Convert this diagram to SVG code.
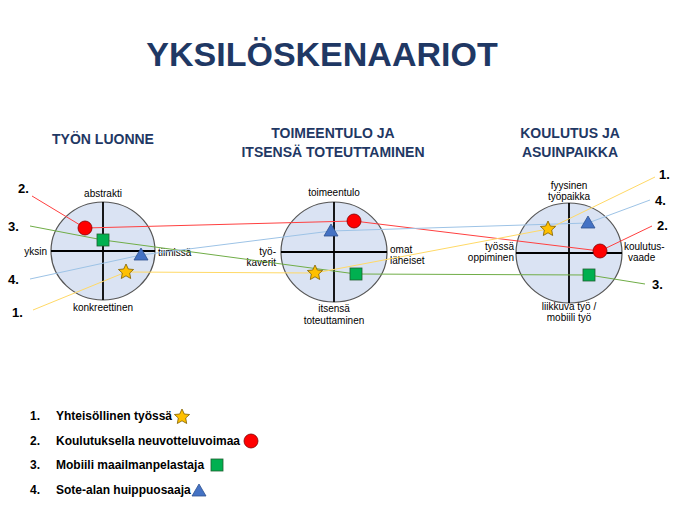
<svg xmlns="http://www.w3.org/2000/svg" width="690" height="514" viewBox="0 0 690 514">
<style>
text{font-family:"Liberation Sans",Arial,sans-serif;fill:#000}
.h{font-weight:bold;fill:#1f3864;font-size:14px;text-anchor:middle}
.l{font-size:10px}
.n{font-weight:bold;font-size:13px}
.g{font-size:12px;font-weight:bold}
.c{fill:#dae3f3;stroke:#555;stroke-width:1.2}
.ax{stroke:#000;stroke-width:1.8}
.st{fill:#ffc000;stroke:#7f6000;stroke-width:0.8}
.sq{fill:#00b050;stroke:#1f5f2f;stroke-width:0.8}
.ci{fill:#ff0000;stroke:#800000;stroke-width:0.8}
.tr{fill:#4472c4;stroke:#2f528f;stroke-width:0.8}
.ln{fill:none;stroke-width:1}
</style>
<defs>
<polygon id="star" points="0,-8 2.3,-3 7.6,-2.5 3.7,1 4.7,6.5 0,3.8 -4.7,6.5 -3.7,1 -7.6,-2.5 -2.3,-3"/>
</defs>
<rect width="690" height="514" fill="#fff"/>
<text x="322" y="66" style="font-size:34px;font-weight:bold;fill:#1f3864;text-anchor:middle">YKSILÖSKENAARIOT</text>
<text class="h" x="103" y="144">TYÖN LUONNE</text>
<text class="h" x="333" y="138">TOIMEENTULO JA</text>
<text class="h" x="333" y="157">ITSENSÄ TOTEUTTAMINEN</text>
<text class="h" x="570" y="138">KOULUTUS JA</text>
<text class="h" x="570" y="157">ASUINPAIKKA</text>
<g id="c1">
<ellipse class="c" cx="103" cy="251" rx="52" ry="49"/>
<line class="ax" x1="103" y1="202" x2="103" y2="300"/><line class="ax" x1="51" y1="251" x2="155" y2="251"/>
<text class="l" x="103" y="197" text-anchor="middle">abstrakti</text>
<text class="l" x="103" y="311" text-anchor="middle">konkreettinen</text>
<text class="l" x="47" y="255" text-anchor="end">yksin</text>
<text class="l" x="158" y="256">tiimissä</text>
</g>
<g id="c2">
<ellipse class="c" cx="334" cy="252" rx="53" ry="50"/>
<line class="ax" x1="334" y1="202" x2="334" y2="302"/><line class="ax" x1="281" y1="252" x2="387" y2="252"/>
<text class="l" x="334" y="196" text-anchor="middle">toimeentulo</text>
<text class="l" x="334" y="312" text-anchor="middle">itsensä</text>
<text class="l" x="334" y="324" text-anchor="middle">toteuttaminen</text>
<text class="l" x="276" y="255" text-anchor="end">työ-</text>
<text class="l" x="276" y="266" text-anchor="end">kaverit</text>
<text class="l" x="390" y="253">omat</text>
<text class="l" x="390" y="264">läheiset</text>
</g>
<g id="c3">
<ellipse class="c" cx="569" cy="253" rx="53" ry="50"/>
<line class="ax" x1="569" y1="203" x2="569" y2="303"/><line class="ax" x1="516" y1="253" x2="622" y2="253"/>
<text class="l" x="569" y="189" text-anchor="middle">fyysinen</text>
<text class="l" x="569" y="200" text-anchor="middle">työpaikka</text>
<text class="l" x="569" y="310" text-anchor="middle">liikkuva työ /</text>
<text class="l" x="569" y="321" text-anchor="middle">mobiili työ</text>
<text class="l" x="514" y="250" text-anchor="end">työssä</text>
<text class="l" x="514" y="261" text-anchor="end">oppiminen</text>
<text class="l" x="624" y="250">koulutus-</text>
<text class="l" x="628" y="261">vaade</text>
</g>
<g id="connectors">
<polyline class="ln" stroke="#ff4040" points="32,196 85,228 354,221 600,251 652,226"/>
<polyline class="ln" stroke="#70ad47" points="30,226 103,240 356,274 589,275 645,284"/>
<polyline class="ln" stroke="#9dc3e6" points="30,279 141,255 331,231 588,223 650,200"/>
<polyline class="ln" stroke="#ffd966" points="33,310 126,272 315,273 548,229 655,177"/>
</g>
<g id="markers">
<circle class="ci" cx="85" cy="228" r="7"/>
<rect class="sq" x="97" y="234" width="12" height="12"/>
<polygon class="tr" points="141,248 148,260 134,260"/>
<use href="#star" class="st" x="126" y="272"/>
<circle class="ci" cx="354" cy="221" r="7"/>
<rect class="sq" x="350" y="268" width="12" height="12"/>
<polygon class="tr" points="331,224 338,236 324,236"/>
<use href="#star" class="st" x="315" y="273"/>
<circle class="ci" cx="600" cy="251" r="7"/>
<rect class="sq" x="583" y="269" width="12" height="12"/>
<polygon class="tr" points="588,216 595,228 581,228"/>
<use href="#star" class="st" x="548" y="229"/>
</g>
<g id="numbers">
<text class="n" x="18" y="193">2.</text>
<text class="n" x="8" y="231">3.</text>
<text class="n" x="8" y="284">4.</text>
<text class="n" x="12" y="317">1.</text>
<text class="n" x="659" y="179">1.</text>
<text class="n" x="655" y="205">4.</text>
<text class="n" x="657" y="230">2.</text>
<text class="n" x="652" y="289">3.</text>
</g>
<g id="legend">
<text class="g" x="30" y="420">1.</text><text class="g" x="56" y="420">Yhteisöllinen työssä</text>
<use href="#star" class="st" x="182" y="417"/>
<text class="g" x="30" y="445">2.</text><text class="g" x="56" y="445">Koulutuksella neuvotteluvoimaa</text>
<circle class="ci" cx="251" cy="441" r="7"/>
<text class="g" x="30" y="469">3.</text><text class="g" x="56" y="469">Mobiili maailmanpelastaja</text>
<rect class="sq" x="211" y="459" width="12" height="12"/>
<text class="g" x="30" y="494">4.</text><text class="g" x="56" y="494">Sote-alan huippuosaaja</text>
<polygon class="tr" points="199,484 206,496 192,496"/>
</g>
</svg>
